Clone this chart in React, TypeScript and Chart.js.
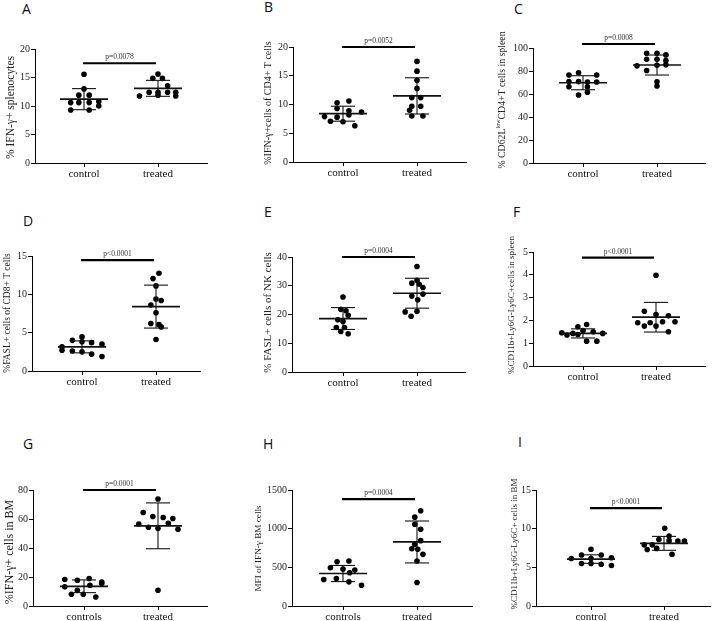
import React, { useEffect, useRef } from "react";
import { Chart, registerables } from "chart.js";
Chart.register(...registerables);

const SERIF = "Liberation Serif, serif";
Chart.defaults.font.family = SERIF;

// ---------- data ----------
const catsControl = ["control", "treated"];
const catsControls = ["controls", "treated"];

// A
const aCtrl = [15.56, 13.0, 11.9, 11.9, 10.6, 10.6, 10.6, 10.8, 10.0, 9.3, 9.3];
const aCtrlX = [0, 0, -0.07, 0.07, -0.18, -0.07, 0.07, 0.2, 0.2, -0.18, 0.07];
const aTrt = [15.6, 14.85, 14.85, 13.55, 12.4, 12.4, 12.4, 12.4, 11.75, 11.9, 11.75];
const aTrtX = [0, -0.07, 0.06, 0.13, -0.12, 0, 0.13, 0.24, -0.25, 0, 0.24];
const aMean = [11.2, 13.1];
const aSd = [1.85, 1.4];

// B
const bCtrl = [10.3, 10.6, 9.3, 8.9, 8.7, 7.9, 7.8, 8.2, 7.1, 7.0, 6.3];
const bCtrlX = [-0.08, 0.08, -0.08, 0.08, 0.25, -0.25, -0.08, 0.08, -0.17, 0, 0.16];
const bTrt = [17.5, 15.8, 14.2, 12.8, 11.2, 11.2, 9.7, 9.7, 9.0, 8.0, 8.0];
const bTrtX = [0, 0, 0, 0, -0.07, 0.05, -0.07, 0.05, -0.1, -0.07, 0.08];
const bMean = [8.4, 11.5];
const bSd = [1.3, 3.15];

// C
const cCtrl = [76.5, 78.5, 76.5, 70.8, 70.8, 70.5, 70.5, 66.3, 66.3, 59.1, 61.5];
const cCtrlX = [-0.19, -0.06, 0.185, -0.19, -0.06, 0.06, 0.185, -0.19, 0.06, -0.06, 0.06];
const cTrt = [95.4, 95.4, 94, 90.2, 90.2, 89, 84.5, 85, 85.5, 80.5, 70.7, 67];
const cTrtX = [-0.14, 0, 0.12, -0.14, 0, 0.12, -0.27, 0, 0.12, -0.14, 0, 0];
const cMean = [69.8, 85.2];
const cSd = [6.1, 8.7];

// D
const dCtrl = [4.45, 4.0, 3.8, 3.7, 3.5, 3.15, 2.7, 2.6, 2.5, 2.2, 1.9];
const dCtrlX = [0, -0.13, 0, 0.13, 0.27, -0.27, -0.27, -0.13, 0, 0.13, 0.27];
const dTrt = [12.75, 12.05, 11.1, 9.4, 9.2, 8.6, 7.6, 6.2, 6.05, 5.75, 4.1];
const dTrtX = [0.04, -0.04, 0, 0, 0.07, -0.07, 0, -0.07, 0.04, 0.07, 0];
const dMean = [3.15, 8.4];
const dSd = [0.78, 2.8];

// E
const eCtrl = [26.1, 21.8, 21.3, 19.7, 18.2, 17.6, 15.5, 15.5, 14.1, 13.3];
const eCtrlX = [0, -0.03, 0.04, 0.07, -0.07, 0, -0.09, 0.02, -0.03, 0.07];
const eTrt = [36.7, 31.9, 30.9, 30.5, 29.4, 27.1, 26.4, 25.1, 21.1, 20.9, 19.4];
const eTrtX = [0, 0, -0.07, 0.03, 0.08, 0.08, -0.07, 0.01, 0, -0.16, -0.08];
const eMean = [18.6, 27.4];
const eSd = [3.8, 5.2];

// F
const fCtrl = [1.82, 1.72, 1.56, 1.46, 1.36, 1.43, 1.38, 1.5, 1.43, 1.09, 1.09];
const fCtrlX = [0.05, -0.07, 0, -0.29, -0.22, -0.14, -0.07, 0.14, 0.27, 0.05, 0.19];
const fTrt = [3.98, 2.4, 2.26, 2.2, 1.9, 1.9, 1.94, 1.94, 1.75, 1.75, 1.5];
const fTrtX = [0, -0.16, 0, 0.17, -0.25, -0.08, 0.09, 0.26, -0.16, 0, 0.17];
const fMean = [1.43, 2.14];
const fSd = [0.2, 0.65];

// G
const gCtrl = [18.3, 17.8, 19.0, 16.6, 15.5, 13.2, 14.3, 10.9, 8.1, 8.1, 6.2];
const gCtrlX = [-0.26, -0.09, 0.07, 0.24, 0.24, -0.26, 0.08, -0.09, -0.17, -0.01, 0.16];
const gTrt = [73.8, 64.5, 61.7, 61.0, 60.3, 56.6, 57.1, 54.3, 53.6, 52.9, 10.9];
const gTrtX = [0, -0.2, -0.07, 0.07, 0.2, -0.26, 0.14, -0.13, 0, 0.27, 0];
const gMean = [13.6, 55.3];
const gSd = [4.4, 15.8];

// H
const hCtrl = [572, 581, 494, 477, 464, 429, 342, 355, 312, 269];
const hCtrlX = [-0.08, 0.08, -0.17, 0, 0.16, 0.09, -0.26, -0.09, 0.08, 0.25];
const hTrt = [1231, 1149, 1058, 993, 845, 798, 741, 733, 668, 581, 303];
const hTrtX = [0.05, -0.03, -0.03, 0.05, 0.05, -0.03, -0.07, 0.01, 0.08, 0, 0];
const hMean = [420, 828];
const hSd = [104, 271];

// I
const iCtrl = [7.33, 6.6, 6.6, 6.15, 6.15, 6.24, 5.5, 5.5, 5.4, 5.24];
const iCtrlX = [0, -0.13, 0.14, -0.27, 0, 0.28, -0.13, 0, 0.14, 0.28];
const iTrt = [10.06, 9.06, 8.6, 8.45, 8.4, 8.4, 7.9, 7.9, 7.3, 7.45, 6.67];
const iTrtX = [0.01, 0.07, -0.07, 0.07, 0.19, 0.28, -0.27, -0.16, -0.23, -0.1, 0.11];
const iMean = [6.07, 8.1];
const iSd = [0.55, 0.9];

// significance annotations and axis ranges
const pTexts = ["p=0.0078", "p=0.0052", "p=0.0008", "p<0.0001", "p=0.0004", "p<0.0001", "p=0.0001", "p=0.0004", "p<0.0001"];
const sigLevels = [17.5, 20, 103.5, 14.45, 40, 4.75, 80, 1383, 12.66];
const yMaxes = [20, 20, 100, 15, 40, 5, 80, 1500, 15];
const ySteps = [5, 5, 20, 5, 10, 1, 20, 500, 5];

type Part = { t: string; sup?: boolean };
interface Geo { l: number; t: number; r: number; b: number; c1: number; c2: number; tx: number; ty: number; ts: number; lx: number; ly: number }
interface PanelDef {
  letter: string; cats: string[];
  ctrlY: number[]; ctrlX: number[]; trtY: number[]; trtX: number[];
  mean: number[]; sd: number[]; idx: number; title: Part[]; geo: Geo;
}

const panels: PanelDef[] = [
  { letter: "A", cats: catsControl, ctrlY: aCtrl, ctrlX: aCtrlX, trtY: aTrt, trtX: aTrtX, mean: aMean, sd: aSd, idx: 0,
    title: [{ t: "% IFN-γ+ splenocytes" }],
    geo: { l: 35, t: 49, r: 207, b: 163, c1: 84, c2: 158, tx: 11, ty: 107.5, ts: 11.5, lx: 22, ly: 5 } },
  { letter: "B", cats: catsControl, ctrlY: bCtrl, ctrlX: bCtrlX, trtY: bTrt, trtX: bTrtX, mean: bMean, sd: bSd, idx: 1,
    title: [{ t: "%IFN-γ+cells of CD4+ T cells" }],
    geo: { l: 293, t: 47, r: 466, b: 162, c1: 343, c2: 417, tx: 268, ty: 103, ts: 10, lx: 264, ly: 3 } },
  { letter: "C", cats: catsControl, ctrlY: cCtrl, ctrlX: cCtrlX, trtY: cTrt, trtX: cTrtX, mean: cMean, sd: cSd, idx: 2,
    title: [{ t: "% CD62L" }, { t: "low", sup: true }, { t: "CD4+T cells in spleen" }],
    geo: { l: 533, t: 48, r: 705, b: 163, c1: 583, c2: 657, tx: 502, ty: 100, ts: 9.8, lx: 514, ly: 5 } },
  { letter: "D", cats: catsControl, ctrlY: dCtrl, ctrlX: dCtrlX, trtY: dTrt, trtX: dTrtX, mean: dMean, sd: dSd, idx: 3,
    title: [{ t: "%FASL+ cells of CD8+ T cells" }],
    geo: { l: 32, t: 256, r: 200, b: 371, c1: 82, c2: 156, tx: 7, ty: 313, ts: 9.5, lx: 23, ly: 217 } },
  { letter: "E", cats: catsControl, ctrlY: eCtrl, ctrlX: eCtrlX, trtY: eTrt, trtX: eTrtX, mean: eMean, sd: eSd, idx: 4,
    title: [{ t: "% FASL+ cells of NK cells" }],
    geo: { l: 292, t: 257, r: 465, b: 372, c1: 343, c2: 417, tx: 268, ty: 312.5, ts: 11, lx: 264, ly: 208 } },
  { letter: "F", cats: catsControl, ctrlY: fCtrl, ctrlX: fCtrlX, trtY: fTrt, trtX: fTrtX, mean: fMean, sd: fSd, idx: 5,
    title: [{ t: "%CD11b+Ly6G-Ly6C+cells in spleen" }],
    geo: { l: 533, t: 252, r: 705, b: 366, c1: 583, c2: 656, tx: 512, ty: 305, ts: 9, lx: 513, ly: 208 } },
  { letter: "G", cats: catsControls, ctrlY: gCtrl, ctrlX: gCtrlX, trtY: gTrt, trtX: gTrtX, mean: gMean, sd: gSd, idx: 6,
    title: [{ t: "%IFN-γ+ cells in BM" }],
    geo: { l: 33, t: 490, r: 207, b: 606, c1: 84, c2: 158, tx: 10, ty: 552, ts: 12, lx: 23, ly: 440 } },
  { letter: "H", cats: catsControls, ctrlY: hCtrl, ctrlX: hCtrlX, trtY: hTrt, trtX: hTrtX, mean: hMean, sd: hSd, idx: 7,
    title: [{ t: "MFI of IFN-γ BM cells" }],
    geo: { l: 292, t: 490, r: 472, b: 606, c1: 343, c2: 417, tx: 259, ty: 548.5, ts: 9.2, lx: 263, ly: 440 } },
  { letter: "I", cats: catsControl, ctrlY: iCtrl, ctrlX: iCtrlX, trtY: iTrt, trtX: iTrtX, mean: iMean, sd: iSd, idx: 8,
    title: [{ t: "%CD11b+Ly6G-Ly6C+ cells in BM" }],
    geo: { l: 536, t: 490, r: 710, b: 606, c1: 591, c2: 664, tx: 515, ty: 544, ts: 9, lx: 518, ly: 438 } },
];

const PAD_TOP = 22;
const X_H = 30;
const PAD_R = 6;

function PanelChart({ p }: { p: PanelDef }) {
  const ref = useRef<HTMLCanvasElement>(null);
  const g = p.geo;
  const left = g.tx - 9;
  const top = g.t - PAD_TOP;
  const yw = g.l - left;
  const width = g.r + PAD_R - left;
  const height = g.b - g.t + PAD_TOP + X_H;

  useEffect(() => {
    const unit = g.c2 - g.c1;
    const xmin = 1 - (g.c1 - g.l) / unit;
    const xmax = 2 + (g.r - g.c2) / unit;
    const pts = [
      ...p.ctrlY.map((y, i) => ({ x: 1 + p.ctrlX[i], y })),
      ...p.trtY.map((y, i) => ({ x: 2 + p.trtX[i], y })),
    ];
    const deco = {
      id: "deco" + p.letter,
      afterDatasetsDraw(chart: any) {
        const ctx: CanvasRenderingContext2D = chart.ctx;
        const xs = chart.scales.x;
        const ys = chart.scales.y;
        const line = (x1: number, y1: number, x2: number, y2: number) => {
          ctx.beginPath(); ctx.moveTo(x1, y1); ctx.lineTo(x2, y2); ctx.stroke();
        };
        ctx.save();
        ctx.strokeStyle = "#111";
        for (let i = 0; i < 2; i++) {
          const cx = xs.getPixelForValue(i + 1);
          const my = ys.getPixelForValue(p.mean[i]);
          const hi = ys.getPixelForValue(p.mean[i] + p.sd[i]);
          const lo = ys.getPixelForValue(p.mean[i] - p.sd[i]);
          ctx.lineWidth = 1.1;
          line(cx, hi, cx, lo);
          line(cx - 12, hi, cx + 12, hi);
          line(cx - 12, lo, cx + 12, lo);
          ctx.lineWidth = 1.7;
          line(cx - 24, my, cx + 24, my);
        }
        const sy = ys.getPixelForValue(sigLevels[p.idx]);
        const x1 = xs.getPixelForValue(1) - 1;
        const x2 = xs.getPixelForValue(2) - 2;
        ctx.lineWidth = 2.2;
        ctx.strokeStyle = "#000";
        line(x1, sy, x2, sy);
        ctx.fillStyle = "#333";
        ctx.font = `7.5px ${SERIF}`;
        ctx.textAlign = "center";
        ctx.textBaseline = "alphabetic";
        ctx.fillText(pTexts[p.idx], (x1 + x2) / 2, sy - 4);

        // y axis title (rotated), supports superscript parts
        const fs = g.ts;
        const supFs = fs * 0.62;
        const fontOf = (pt: Part) => `${pt.sup ? supFs : fs}px ${SERIF}`;
        let total = 0;
        const widths = p.title.map((pt) => { ctx.font = fontOf(pt); const w = ctx.measureText(pt.t).width; total += w; return w; });
        ctx.translate(g.tx - left, g.ty - top);
        ctx.rotate(-Math.PI / 2);
        ctx.fillStyle = "#222";
        ctx.textAlign = "left";
        ctx.textBaseline = "middle";
        let cxp = -total / 2;
        p.title.forEach((pt, i) => {
          ctx.font = fontOf(pt);
          ctx.fillText(pt.t, cxp, pt.sup ? -fs * 0.38 : 0);
          cxp += widths[i];
        });
        ctx.restore();
      },
    };
    const chart = new Chart(ref.current!, {
      type: "scatter",
      data: {
        datasets: [{
          data: pts,
          pointRadius: 2.8,
          pointHoverRadius: 2.8,
          pointBackgroundColor: "#000",
          pointBorderWidth: 0,
          showLine: false,
        }],
      },
      options: {
        animation: false,
        responsive: false,
        maintainAspectRatio: false,
        events: [],
        font: { family: SERIF },
        layout: { padding: { top: PAD_TOP, right: PAD_R, left: 0, bottom: 0 } },
        plugins: { legend: { display: false }, tooltip: { enabled: false } },
        scales: {
          x: {
            type: "linear",
            min: xmin,
            max: xmax,
            afterBuildTicks: (ax: any) => { ax.ticks = [{ value: 1 }, { value: 2 }]; },
            afterFit: (s: any) => { s.height = X_H; },
            ticks: {
              autoSkip: false, maxRotation: 0, padding: 1, color: "#111",
              font: { family: SERIF, size: 11 },
              callback: (v: any) => p.cats[Math.round(Number(v)) - 1] ?? "",
            },
            grid: { drawOnChartArea: false, drawTicks: true, tickLength: 4, color: "#000", lineWidth: 1 },
            border: { display: true, color: "#000", width: 1 },
          },
          y: {
            min: 0,
            max: yMaxes[p.idx],
            afterFit: (s: any) => { s.width = yw; },
            ticks: {
              stepSize: ySteps[p.idx], padding: 1, color: "#222",
              font: { family: SERIF, size: 10 },
              callback: (v: any) => String(v),
            },
            grid: { drawOnChartArea: false, drawTicks: true, tickLength: 4, color: "#000", lineWidth: 1 },
            border: { display: true, color: "#000", width: 1 },
          },
        },
      },
      plugins: [deco],
    } as any);
    return () => chart.destroy();
  }, []);

  return (
    <>
      <canvas ref={ref} width={width} height={height}
        style={{ position: "absolute", left, top, width, height }} />
      <div style={{ position: "absolute", left: g.lx, top: g.ly - 3, fontFamily: '"Open Sans", "DejaVu Sans", sans-serif', fontSize: 14, lineHeight: "14px", color: "#111" }}>
        {p.letter}
      </div>
    </>
  );
}

export default function App() {
  return (
    <div style={{ position: "fixed", left: 0, top: 0, width: 714, height: 621, overflow: "hidden", background: "#fff" }}>
      {panels.map((p) => <PanelChart key={p.letter} p={p} />)}
    </div>
  );
}
